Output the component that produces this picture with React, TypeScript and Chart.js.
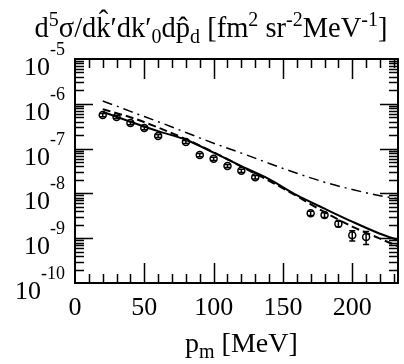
import { useEffect, useRef } from 'react';
import { Chart, registerables } from 'chart.js';
Chart.register(...registerables);

// measured data points (p_m in MeV, cross section)
const pmData = [20, 30, 40, 50, 60, 80, 90, 100, 110, 120, 130, 170, 180, 190, 200, 210];
const sigmaData = [5.62e-7, 5.07e-7, 3.72e-7, 2.88e-7, 1.91e-7, 1.41e-7, 7.2e-8, 5.9e-8, 4.1e-8, 3.2e-8, 2.3e-8, 3.6e-9, 3.3e-9, 2.1e-9, 1.17e-9, 1.07e-9];
const sigmaErr = [0.45e-7, 0.4e-7, 0.3e-7, 0.23e-7, 0.15e-7, 0.11e-7, 0.6e-8, 0.5e-8, 0.33e-8, 0.26e-8, 0.2e-8, 0.4e-9, 0.4e-9, 0.3e-9, 0.3e-9, 0.35e-9];

// theory curves
const curveX = [20, 30, 40, 60, 80, 100, 120, 140, 160, 180, 200, 220, 233];
const solidY = [6.61e-7, 5.13e-7, 3.98e-7, 2.45e-7, 1.58e-7, 8.13e-8, 4.07e-8, 2.09e-8, 9.1e-9, 4.57e-9, 2.34e-9, 1.26e-9, 9.1e-10];
const dashedY = [7.59e-7, 6.17e-7, 5.01e-7, 2.95e-7, 1.62e-7, 8.32e-8, 3.98e-8, 1.91e-8, 8.71e-9, 3.8e-9, 1.82e-9, 9.77e-10, 6.61e-10];
const dashDotY = [1.15e-6, 8.91e-7, 6.76e-7, 3.98e-7, 2.29e-7, 1.32e-7, 7.94e-8, 4.68e-8, 2.82e-8, 1.78e-8, 1.22e-8, 8.91e-9, 7.59e-9];

// axes
const xMin = 0;
const xMax = 233;
const yMin = 1e-10;
const yMax = 1e-5;
const xTickLabels = [0, 50, 100, 150, 200];
const yTickExps = [-5, -6, -7, -8, -9, -10];

const FONT = '"Liberation Serif", "Times New Roman", serif';

type Seg = { t: string; size: number; dy?: number; hat?: number };

function segWidth(ctx: CanvasRenderingContext2D, segs: Seg[]) {
  let w = 0;
  for (const s of segs) {
    ctx.font = `${s.size}px ${FONT}`;
    w += ctx.measureText(s.t).width;
  }
  return w;
}

function drawRich(ctx: CanvasRenderingContext2D, segs: Seg[], x: number, baseline: number) {
  let cx = x;
  ctx.textAlign = 'left';
  ctx.textBaseline = 'alphabetic';
  for (const s of segs) {
    ctx.font = `${s.size}px ${FONT}`;
    const w = ctx.measureText(s.t).width;
    ctx.fillText(s.t, cx, baseline + (s.dy || 0));
    if (s.hat !== undefined) {
      ctx.textAlign = 'center';
      ctx.fillText('\u02C6', cx + w / 2, baseline + s.hat);
      ctx.textAlign = 'left';
    }
    cx += w;
  }
}

const titleSegs: Seg[] = [
  { t: 'd', size: 28.5 },
  { t: '5', size: 20, dy: -11 },
  { t: '\u03C3/d', size: 28.5 },
  { t: 'k', size: 28.5, hat: -7 },
  { t: '\u2032dk\u2032', size: 28.5 },
  { t: '0', size: 20, dy: 6 },
  { t: 'd', size: 28.5 },
  { t: 'p', size: 28.5, hat: 0 },
  { t: 'd', size: 20, dy: 6 },
  { t: ' [fm', size: 28.5 },
  { t: '2', size: 20, dy: -11 },
  { t: ' sr', size: 28.5 },
  { t: '-2', size: 20, dy: -11 },
  { t: 'MeV', size: 28.5 },
  { t: '-1', size: 20, dy: -11 },
  { t: ']', size: 28.5 },
];

const xTitleSegs: Seg[] = [
  { t: 'p', size: 28 },
  { t: 'm', size: 20, dy: 6 },
  { t: ' [MeV]', size: 28 },
];

const decor = {
  id: 'decor',
  afterDatasetsDraw(chart: any) {
    const { ctx, scales } = chart;
    const x = scales.x;
    const y = scales.y;
    ctx.save();
    ctx.strokeStyle = '#000';
    ctx.lineWidth = 1.5;
    for (let i = 0; i < pmData.length; i++) {
      const px = x.getPixelForValue(pmData[i]);
      const pHi = y.getPixelForValue(sigmaData[i] + sigmaErr[i]);
      const pLo = y.getPixelForValue(sigmaData[i] - sigmaErr[i]);
      ctx.beginPath();
      ctx.moveTo(px, pHi);
      ctx.lineTo(px, pLo);
      ctx.moveTo(px - 3, pHi);
      ctx.lineTo(px + 3, pHi);
      ctx.moveTo(px - 3, pLo);
      ctx.lineTo(px + 3, pLo);
      ctx.stroke();
    }
    ctx.restore();
  },
  afterDraw(chart: any) {
    const { ctx, chartArea: a, scales } = chart;
    const x = scales.x;
    const y = scales.y;
    ctx.save();
    ctx.strokeStyle = '#000';
    ctx.fillStyle = '#000';
    // ticks
    ctx.lineWidth = 1.5;
    ctx.beginPath();
    for (let v = 10; v < xMax; v += 10) {
      const px = Math.round(x.getPixelForValue(v)) + 0.5;
      const len = v % 50 === 0 ? 20 : 9;
      ctx.moveTo(px, a.bottom);
      ctx.lineTo(px, a.bottom - len);
      ctx.moveTo(px, a.top);
      ctx.lineTo(px, a.top + len);
    }
    for (let e = -10; e < -5; e++) {
      for (let m = 1; m <= 9; m++) {
        if (e === -10 && m === 1) continue;
        const py = Math.round(y.getPixelForValue(m * Math.pow(10, e))) + 0.5;
        const len = m === 1 ? 18 : 9;
        ctx.moveTo(a.left, py);
        ctx.lineTo(a.left + len, py);
        ctx.moveTo(a.right, py);
        ctx.lineTo(a.right - len, py);
      }
    }
    ctx.stroke();
    // frame
    ctx.lineWidth = 2;
    ctx.strokeRect(a.left, a.top, a.right - a.left, a.bottom - a.top);

    // x tick labels
    ctx.font = `26px ${FONT}`;
    ctx.textAlign = 'center';
    ctx.textBaseline = 'alphabetic';
    for (const v of xTickLabels) {
      ctx.fillText(String(v), x.getPixelForValue(v), 315);
    }
    // y tick labels
    for (const e of yTickExps) {
      const py = y.getPixelForValue(Math.pow(10, e));
      const right = 65;
      ctx.font = `18px ${FONT}`;
      ctx.textAlign = 'right';
      const expStr = String(e);
      const ew = ctx.measureText(expStr).width;
      ctx.fillText(expStr, right, py - 4);
      ctx.font = `26px ${FONT}`;
      ctx.fillText('10', right - ew, py + 16);
    }
    // title
    const tw = segWidth(ctx, titleSegs);
    drawRich(ctx, titleSegs, 211 - tw / 2, 37);
    // x axis title
    drawRich(ctx, xTitleSegs, 185, 352);
    ctx.restore();
  },
};

export default function App() {
  const ref = useRef<HTMLCanvasElement | null>(null);
  useEffect(() => {
    if (!ref.current) return;
    const pts = (xs: number[], ys: number[]) => xs.map((v, i) => ({ x: v, y: ys[i] }));
    const chart = new Chart(ref.current, {
      type: 'scatter',
      data: {
        datasets: [
          {
            label: 'solid',
            data: pts(curveX, solidY),
            showLine: true,
            borderColor: '#000',
            borderWidth: 2,
            pointRadius: 0,
            cubicInterpolationMode: 'monotone',
          },
          {
            label: 'dashed',
            data: pts(curveX, dashedY),
            showLine: true,
            borderColor: '#000',
            borderWidth: 2,
            borderDash: [8, 4],
            pointRadius: 0,
            cubicInterpolationMode: 'monotone',
          },
          {
            label: 'dash-dot',
            data: pts(curveX, dashDotY),
            showLine: true,
            borderColor: '#000',
            borderWidth: 1.5,
            borderDash: [10, 5, 2, 5],
            pointRadius: 0,
            cubicInterpolationMode: 'monotone',
          },
          {
            label: 'data',
            data: pts(pmData, sigmaData),
            showLine: false,
            pointStyle: 'circle',
            pointRadius: 3.5,
            borderColor: '#000',
            backgroundColor: '#fff',
            pointBorderWidth: 1.5,
          },
        ],
      } as any,
      options: {
        animation: false,
        responsive: false,
        layout: { padding: { left: 75, right: 6, top: 59, bottom: 81 } },
        plugins: { legend: { display: false }, tooltip: { enabled: false } },
        scales: {
          x: { type: 'linear', min: xMin, max: xMax, display: false },
          y: { type: 'logarithmic', min: yMin, max: yMax, display: false },
        },
      } as any,
      plugins: [decor],
    });
    return () => chart.destroy();
  }, []);
  return (
    <div style={{ position: 'fixed', left: 0, top: 0, width: 404, height: 364, background: '#fff' }}>
      <canvas ref={ref} width={404} height={364} style={{ width: 404, height: 364 }} />
    </div>
  );
}
